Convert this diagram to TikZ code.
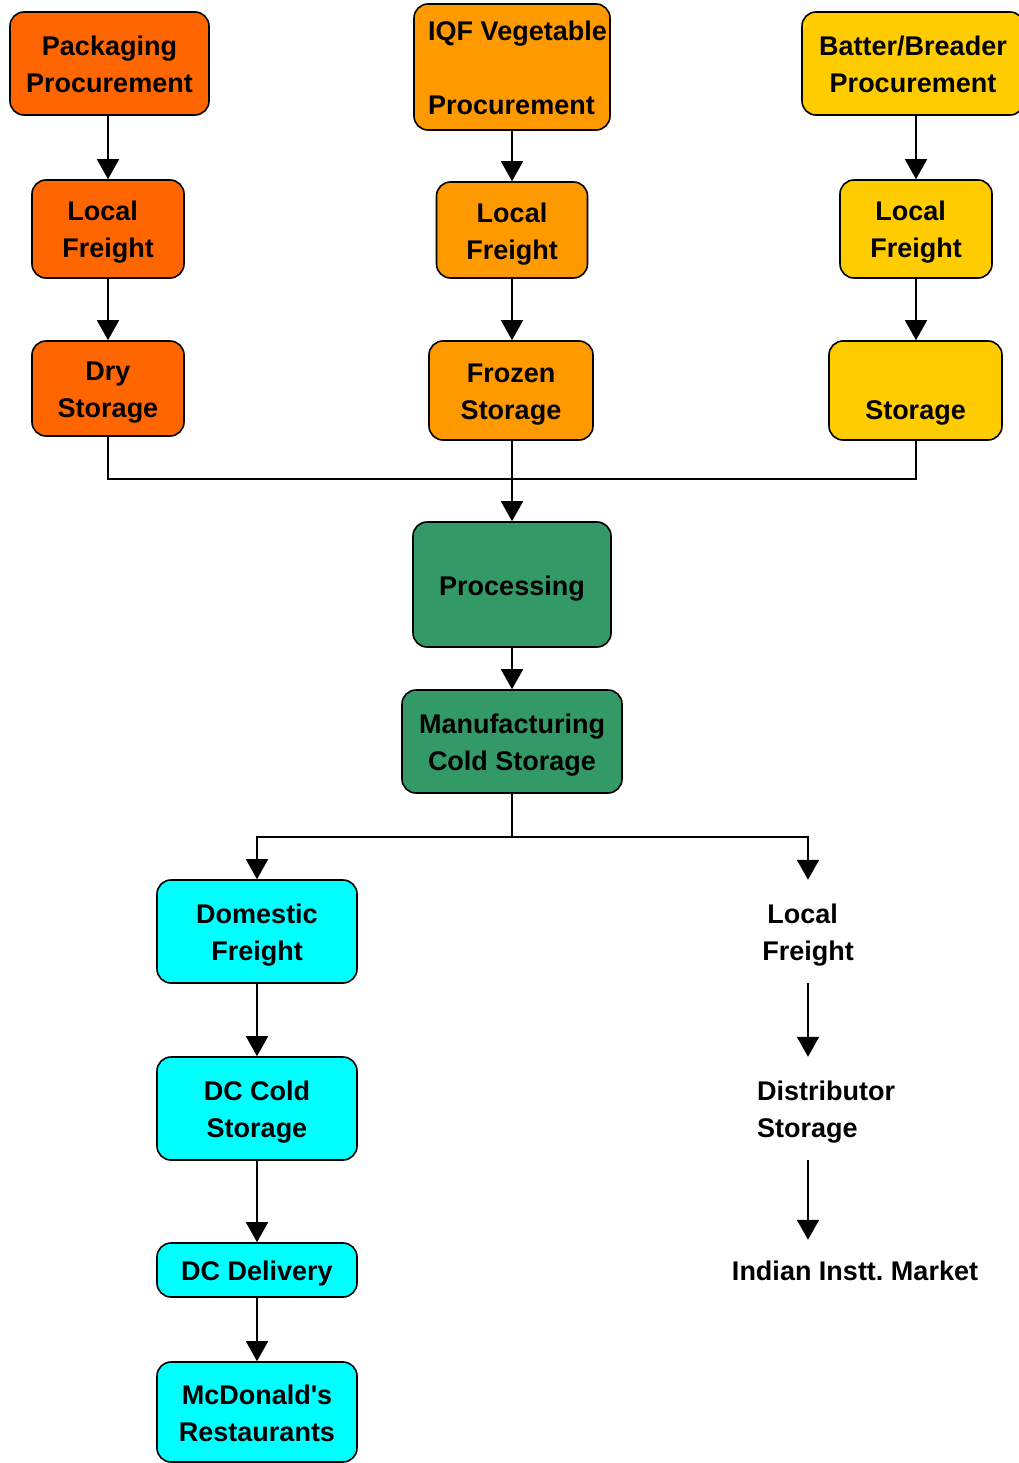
\documentclass[tikz,border=0pt]{standalone}
\usepackage{fontspec}
\setmainfont{Liberation Sans}
\usetikzlibrary{arrows.meta}
\definecolor{cpack}{HTML}{FF6600}
\definecolor{cveg}{HTML}{FF9900}
\definecolor{cbat}{HTML}{FFCC00}
\definecolor{cproc}{HTML}{339966}
\definecolor{cdist}{HTML}{00FFFF}
\newcommand\lnstrut{\rule[-7pt]{0pt}{35pt}}
\begin{document}
\begin{tikzpicture}[x=1pt,y=-1pt,
  txt/.style={align=center, inner sep=0pt, font=\fontsize{27}{37}\selectfont\bfseries},
  box/.style={txt, draw=black, line width=1.6pt, rounded corners=14pt},
  ln/.style={line width=1.6pt},
  arr/.style={line width=1.6pt, -{Triangle[length=20pt,width=22pt]}}]
\useasboundingbox (0,0) rectangle (1019,1463);
% left column
\node[box, fill=cpack, minimum width=199pt, minimum height=103pt] (pp) at (109.5,63.5) {\lnstrut Packaging\\Procurement\lnstrut};
\node[box, fill=cpack, minimum width=152pt, minimum height=98pt] (lf1) at (108,229) {\lnstrut Local\kern0.4em\\Freight\lnstrut};
\node[box, fill=cpack, minimum width=152pt, minimum height=95pt] (dry) at (108,388.5) {\lnstrut Dry\\Storage\lnstrut};
% middle column
\node[box, align=left, fill=cveg, minimum width=196pt, minimum height=126pt] (iqf) at (512,67) {\lnstrut\hspace*{11pt}IQF Vegetable\\\mbox{}\\\hspace*{11pt}Procurement\lnstrut};
\node[box, fill=cveg, minimum width=151pt, minimum height=96pt] (lf2) at (512,230) {\lnstrut Local\\Freight\lnstrut};
\node[box, fill=cveg, minimum width=164pt, minimum height=99pt] (frz) at (511,390.5) {\lnstrut Frozen\\Storage\lnstrut};
% right column
\node[box, fill=cbat, minimum width=222pt, minimum height=103pt] (bb) at (913,63.5) {\lnstrut Batter/Breader\\Procurement\lnstrut};
\node[box, fill=cbat, minimum width=152pt, minimum height=98pt] (lf3) at (916,229) {\lnstrut Local\kern0.4em\\Freight\lnstrut};
\node[box, fill=cbat, minimum width=173pt, minimum height=99pt] (st3) at (915.5,390.5) {\lnstrut\\Storage\lnstrut};
% processing
\node[box, fill=cproc, minimum width=198pt, minimum height=125pt] (proc) at (512,584.5) {\lnstrut Processing};
\node[box, fill=cproc, minimum width=220pt, minimum height=103pt] (mcs) at (512,741.5) {\lnstrut Manufacturing\\Cold Storage\lnstrut};
% distribution
\node[box, fill=cdist, minimum width=200pt, minimum height=103pt] (dom) at (257,931.5) {\lnstrut Domestic\\Freight\lnstrut};
\node[box, fill=cdist, minimum width=200pt, minimum height=103pt] (dcc) at (257,1108.5) {\lnstrut DC Cold\\Storage\lnstrut};
\node[box, fill=cdist, minimum width=200pt, minimum height=54pt] (dcd) at (257,1270) {\lnstrut DC Delivery};
\node[box, fill=cdist, minimum width=200pt, minimum height=100pt] (mcd) at (257,1412) {\lnstrut McDonald\textquotesingle s\\Restaurants\lnstrut};
% institutional market
\node[txt, minimum width=200pt, minimum height=103pt] (rfr) at (808,931.5) {\lnstrut Local\kern0.4em\\Freight\lnstrut};
\node[txt, align=left, text width=140pt, minimum height=103pt] (rdist) at (827,1108.5) {\lnstrut Distributor\\Storage\lnstrut};
\node[txt, minimum height=60pt] (rmk) at (855,1270) {\lnstrut Indian Instt.\ Market};
% connectors
\draw[arr] (pp.south -| lf1.north) -- (lf1.north);
\draw[arr] (lf1.south) -- (dry.north);
\draw[arr] (iqf.south -| lf2.north) -- (lf2.north);
\draw[arr] (lf2.south) -- (lf2.south |- frz.north);
\draw[arr] (bb.south -| lf3.north) -- (lf3.north);
\draw[arr] (lf3.south) -- (lf3.south |- st3.north);
\coordinate (j) at (512,479);
\draw[ln] (dry.south) |- (j);
\draw[ln] (st3.south -| lf3.south) |- (j);
\draw[arr] (frz.south -| lf2.south) -- (lf2.south |- proc.north);
\draw[arr] (proc.south) -- (mcs.north);
\coordinate (k) at (512,837);
\draw[ln] (mcs.south) -- (k);
\draw[arr] (k) -| (dom.north);
\draw[arr] (k) -| (rfr.north);
\draw[arr] (dom.south) -- (dcc.north);
\draw[arr] (dcc.south) -- (dcd.north);
\draw[arr] (dcd.south) -- (mcd.north);
\draw[arr] (rfr.south) -- (rfr.south |- rdist.north);
\draw[arr] (rfr.south |- rdist.south) -- (rfr.south |- rmk.north);
\end{tikzpicture}
\end{document}
